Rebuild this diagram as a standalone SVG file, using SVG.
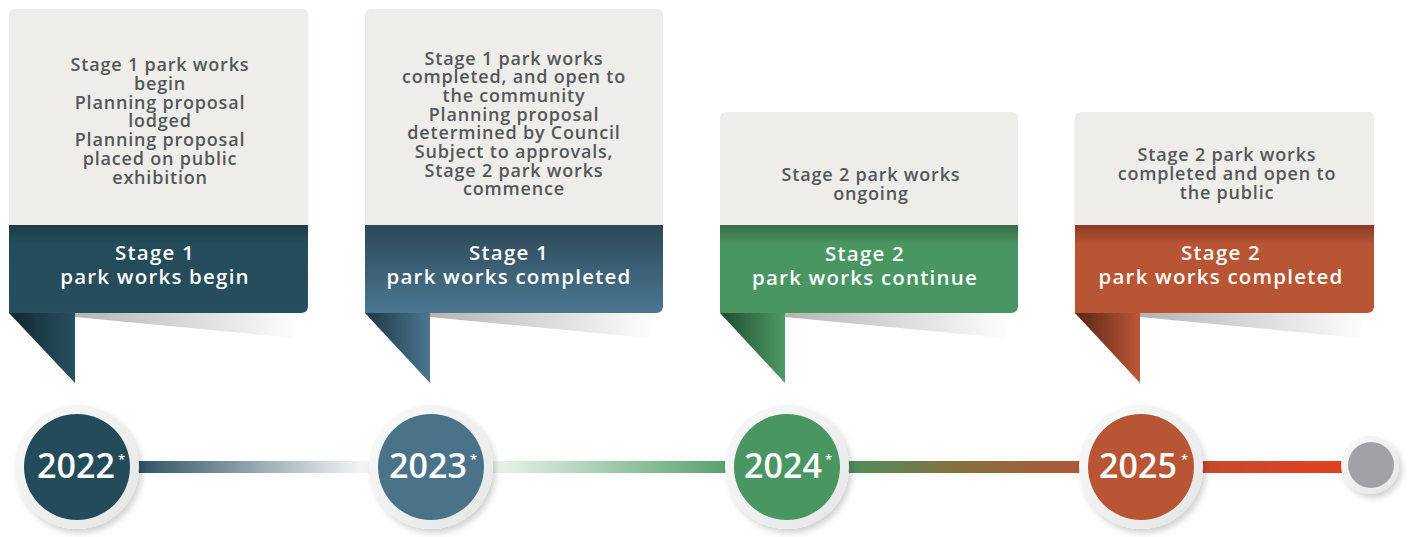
<svg xmlns="http://www.w3.org/2000/svg" width="1413" height="537" viewBox="0 0 1413 537">
  <style>
    .top { fill: #eeede9; }
    .desc { font-family: "Open Sans", "Liberation Sans", sans-serif; font-weight: 600; font-size: 18px; fill: #53585b; text-anchor: middle; letter-spacing: 0.8px; }
    .band { font-family: "Open Sans", "Liberation Sans", sans-serif; font-weight: 600; font-size: 20.5px; fill: #ffffff; text-anchor: middle; letter-spacing: 1.2px; }
    .year { font-family: "Open Sans", "Liberation Sans", sans-serif; font-weight: 600; font-size: 34px; fill: #ffffff; text-anchor: middle; }
    .star { font-family: "Open Sans", "Liberation Sans", sans-serif; font-weight: 600; font-size: 13px; fill: #ffffff; }
    .ring { fill: url(#ringGrad); filter: url(#ringShadow); }
  </style>
  <defs>
    <linearGradient id="shadowGrad" x1="0" y1="0" x2="1" y2="0">
      <stop offset="0" stop-color="#b4b4b4"/>
      <stop offset="1" stop-color="#ffffff"/>
    </linearGradient>
    <linearGradient id="ringGrad" x1="0" y1="0" x2="1" y2="1">
      <stop offset="0" stop-color="#fafafa"/>
      <stop offset="1" stop-color="#e4e5e5"/>
    </linearGradient>
    <filter id="ringShadow" x="-30%" y="-30%" width="160%" height="160%">
      <feDropShadow dx="3" dy="4" stdDeviation="3" flood-color="#000000" flood-opacity="0.18"/>
    </filter>
    <linearGradient id="band1" x1="0" y1="0" x2="0" y2="1">
      <stop offset="0" stop-color="#1d3c48"/>
      <stop offset="0.2" stop-color="#244b5a"/>
      <stop offset="1" stop-color="#264e5d"/>
    </linearGradient>
    <linearGradient id="band2" x1="0" y1="0" x2="0" y2="1">
      <stop offset="0" stop-color="#2d4857"/>
      <stop offset="1" stop-color="#4b7791"/>
    </linearGradient>
    <linearGradient id="band3" x1="0" y1="0" x2="0" y2="1">
      <stop offset="0" stop-color="#386c48"/>
      <stop offset="0.22" stop-color="#4a9663"/>
      <stop offset="1" stop-color="#4a9663"/>
    </linearGradient>
    <linearGradient id="band4" x1="0" y1="0" x2="0" y2="1">
      <stop offset="0" stop-color="#873b25"/>
      <stop offset="0.22" stop-color="#b85535"/>
      <stop offset="1" stop-color="#b85535"/>
    </linearGradient>
    <linearGradient id="fold1" x1="0" y1="0" x2="1" y2="0">
      <stop offset="0" stop-color="#11262e"/>
      <stop offset="1" stop-color="#285060"/>
    </linearGradient>
    <linearGradient id="fold2" x1="0" y1="0" x2="1" y2="0">
      <stop offset="0" stop-color="#1c3642"/>
      <stop offset="1" stop-color="#4b7791"/>
    </linearGradient>
    <linearGradient id="fold3" x1="0" y1="0" x2="1" y2="0">
      <stop offset="0" stop-color="#1f4a2e"/>
      <stop offset="1" stop-color="#4e9b67"/>
    </linearGradient>
    <linearGradient id="fold4" x1="0" y1="0" x2="1" y2="0">
      <stop offset="0" stop-color="#5a2414"/>
      <stop offset="1" stop-color="#bc5737"/>
    </linearGradient>
    <linearGradient id="lineGrad" gradientUnits="userSpaceOnUse" x1="130" y1="0" x2="1350" y2="0">
      <stop offset="0" stop-color="#2f5464"/>
      <stop offset="0.0082" stop-color="#2f5464"/>
      <stop offset="0.1885" stop-color="#f2f4f4"/>
      <stop offset="0.2951" stop-color="#eef5f0"/>
      <stop offset="0.4918" stop-color="#55a06b"/>
      <stop offset="0.5902" stop-color="#4f8e5b"/>
      <stop offset="0.6803" stop-color="#86703f"/>
      <stop offset="0.7787" stop-color="#b0573a"/>
      <stop offset="0.877" stop-color="#c44b2f"/>
      <stop offset="0.9959" stop-color="#e3401f"/>
      <stop offset="1" stop-color="#e3401f"/>
    </linearGradient>
  </defs>

  <g id="connectors">
    <rect x="120" y="461" width="1240" height="12" fill="url(#lineGrad)"/>
  </g>

  <g id="card-2022">
    <polygon points="75,313 301,313 294,338 75,317" fill="url(#shadowGrad)"/>
    <path class="top" d="M9,225 V15 Q9,9 15,9 H302 Q308,9 308,15 V225 Z"/>
    <path d="M9,225 H308 V306 Q308,313 301,313 H9 Z" fill="url(#band1)"/>
    <polygon points="9,313 75,313 75,383" fill="url(#fold1)"/>
    <text class="desc" x="160" y="71">Stage 1 park works</text>
    <text class="desc" x="160" y="89.8">begin</text>
    <text class="desc" x="160" y="108.6">Planning proposal</text>
    <text class="desc" x="160" y="127.4">lodged</text>
    <text class="desc" x="160" y="146.2">Planning proposal</text>
    <text class="desc" x="160" y="165">placed on public</text>
    <text class="desc" x="160" y="183.8">exhibition</text>
    <text class="band" x="155" y="259.5">Stage 1</text>
    <text class="band" x="155" y="283.5">park works begin</text>
  </g>

  <g id="card-2023">
    <polygon points="430,313 656,313 649,338 430,317" fill="url(#shadowGrad)"/>
    <path class="top" d="M365,225 V15 Q365,9 371,9 H657 Q663,9 663,15 V225 Z"/>
    <path d="M365,225 H663 V306 Q663,313 656,313 H365 Z" fill="url(#band2)"/>
    <polygon points="365,313 430,313 430,383" fill="url(#fold2)"/>
    <text class="desc" x="514" y="64.5">Stage 1 park works</text>
    <text class="desc" x="514" y="83.2">completed, and open to</text>
    <text class="desc" x="514" y="101.9">the community</text>
    <text class="desc" x="514" y="120.6">Planning proposal</text>
    <text class="desc" x="514" y="139.3">determined by Council</text>
    <text class="desc" x="514" y="158">Subject to approvals,</text>
    <text class="desc" x="514" y="176.7">Stage 2 park works</text>
    <text class="desc" x="514" y="195.4">commence</text>
    <text class="band" x="509" y="259.5">Stage 1</text>
    <text class="band" x="509" y="283.5">park works completed</text>
  </g>

  <g id="card-2024">
    <polygon points="785,313 1011,313 1004,338 785,317" fill="url(#shadowGrad)"/>
    <path class="top" d="M720,225 V118 Q720,112 726,112 H1012 Q1018,112 1018,118 V225 Z"/>
    <path d="M720,225 H1018 V306 Q1018,313 1011,313 H720 Z" fill="url(#band3)"/>
    <polygon points="720,313 785,313 785,383" fill="url(#fold3)"/>
    <text class="desc" x="871" y="181">Stage 2 park works</text>
    <text class="desc" x="871" y="199.8">ongoing</text>
    <text class="band" x="865" y="260.5">Stage 2</text>
    <text class="band" x="865" y="284.5">park works continue</text>
  </g>

  <g id="card-2025">
    <polygon points="1140,313 1367,313 1360,338 1140,317" fill="url(#shadowGrad)"/>
    <path class="top" d="M1075,225 V118 Q1075,112 1081,112 H1368 Q1374,112 1374,118 V225 Z"/>
    <path d="M1075,225 H1374 V306 Q1374,313 1367,313 H1075 Z" fill="url(#band4)"/>
    <polygon points="1075,313 1140,313 1140,383" fill="url(#fold4)"/>
    <text class="desc" x="1227" y="161">Stage 2 park works</text>
    <text class="desc" x="1227" y="179.8">completed and open to</text>
    <text class="desc" x="1227" y="198.6">the public</text>
    <text class="band" x="1221" y="259.5">Stage 2</text>
    <text class="band" x="1221" y="283.5">park works completed</text>
  </g>

  <g id="year-2022">
    <circle class="ring" cx="77" cy="467" r="62"/>
    <circle cx="77" cy="467" r="53" fill="#244b5a"/>
    <text class="year" x="76" y="478">2022</text>
    <text class="star" x="118" y="464">*</text>
  </g>

  <g id="year-2023">
    <circle class="ring" cx="431" cy="467" r="62"/>
    <circle cx="431" cy="467" r="53" fill="#4a7389"/>
    <text class="year" x="428" y="478">2023</text>
    <text class="star" x="470" y="464">*</text>
  </g>

  <g id="year-2024">
    <circle class="ring" cx="787" cy="467" r="62"/>
    <circle cx="787" cy="467" r="53" fill="#4a9663"/>
    <text class="year" x="783" y="478">2024</text>
    <text class="star" x="825" y="464">*</text>
  </g>

  <g id="year-2025">
    <circle class="ring" cx="1141" cy="467" r="62"/>
    <circle cx="1141" cy="467" r="53" fill="#b85535"/>
    <text class="year" x="1138" y="478">2025</text>
    <text class="star" x="1181" y="464">*</text>
  </g>

  <g id="end-dot">
    <circle class="ring" cx="1370" cy="465" r="29"/>
    <circle cx="1371" cy="465" r="23" fill="#a1a2a6"/>
  </g>
</svg>
